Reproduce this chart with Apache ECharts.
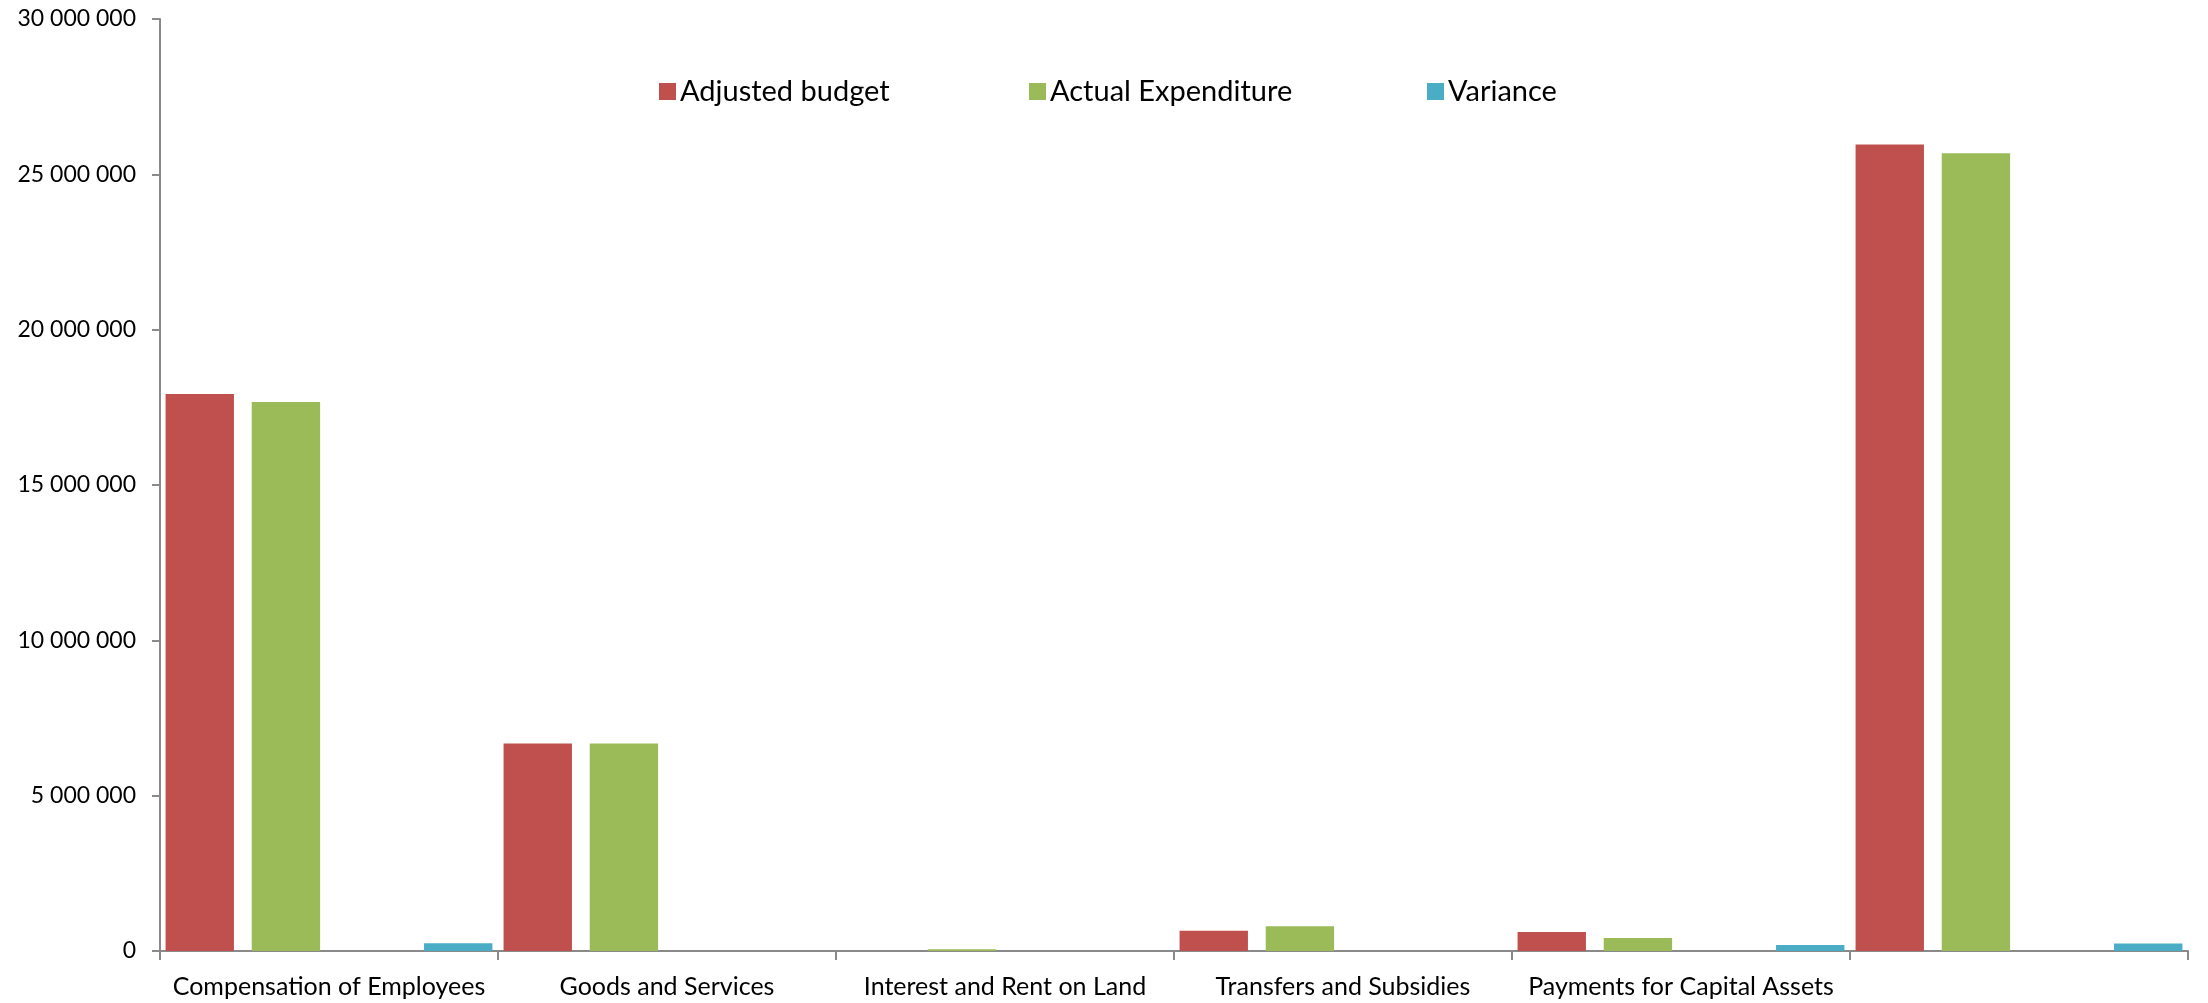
<!DOCTYPE html>
<html>
<head>
<meta charset="utf-8">
<title>Adjusted budget vs Actual Expenditure</title>
<script src="https://cdn.jsdelivr.net/npm/echarts@6/dist/echarts.min.js"></script>
<style>
  html, body { margin: 0; padding: 0; background: #ffffff; }
  #chart { width: 2208px; height: 1003px; }
</style>
</head>
<body>
<div id="chart"></div>
<script>
// Economic classification (last column is the total, left unlabelled)
const categories = [
  'Compensation of Employees',
  'Goods and Services',
  'Interest and Rent on Land',
  'Transfers and Subsidies',
  'Payments for Capital Assets',
  ''
];
const adjustedBudget    = [17930000, 6680000, 0,      655000,  612000, 25960000];
const actualExpenditure = [17670000, 6680000, 55000,  794000,  419000, 25680000];
const emptySlot         = [null, null, null, null, null, null];
const variance          = [250000,   0,       -80000, -90000,  193000, 245000];
const yTicks = { min: 0, max: 30000000, step: 5000000 };

const FONT = 'Lato, "Open Sans", sans-serif';
const AXIS_GREY = '#8a8a8a';
const COLORS = { budget: '#C0504D', actual: '#9BBB59', variance: '#4BACC6' };

function spaced(v) {
  return String(v).replace(/\B(?=(\d{3})+(?!\d))/g, ' ');
}

function legendAt(name, left) {
  return {
    data: [name],
    left: left,
    top: 72,
    itemWidth: 17,
    itemHeight: 17,
    itemGap: 8,
    icon: 'rect',
    selectedMode: false,
    textStyle: { fontFamily: FONT, fontSize: 29, color: '#000', padding: [0, 0, 0, -1] }
  };
}

const chart = echarts.init(document.getElementById('chart'), null, { renderer: 'canvas' });

chart.setOption({
  animation: false,
  backgroundColor: '#ffffff',
  legend: [
    legendAt('Adjusted budget', 654),
    legendAt('Actual Expenditure', 1024),
    legendAt('Variance', 1422)
  ],
  grid: { left: 160, right: 20, top: 19, bottom: 52, containLabel: false },
  xAxis: {
    type: 'category',
    data: categories,
    z: 0,
    axisLine: { show: true, onZero: false, lineStyle: { color: AXIS_GREY, width: 2 } },
    axisTick: { show: true, length: 9, alignWithLabel: false, lineStyle: { color: AXIS_GREY, width: 2 } },
    axisLabel: { interval: 0, margin: 23, fontFamily: FONT, fontSize: 25, color: '#000' },
    splitLine: { show: false }
  },
  yAxis: {
    type: 'value',
    min: yTicks.min,
    max: yTicks.max,
    interval: yTicks.step,
    axisLine: { show: true, lineStyle: { color: AXIS_GREY, width: 2 } },
    axisTick: { show: true, length: 8, lineStyle: { color: AXIS_GREY, width: 2 } },
    axisLabel: { margin: 24, fontFamily: FONT, fontSize: 23, color: '#000', formatter: spaced },
    splitLine: { show: false }
  },
  series: [
    {
      name: 'Adjusted budget', type: 'bar', data: adjustedBudget,
      barCategoryGap: '3.3%', barGap: '26%',
      itemStyle: { color: COLORS.budget }
    },
    {
      name: 'Actual Expenditure', type: 'bar', data: actualExpenditure,
      barCategoryGap: '3.3%', barGap: '26%',
      itemStyle: { color: COLORS.actual }
    },
    {
      name: 'slot', type: 'bar', data: emptySlot, silent: true,
      barCategoryGap: '3.3%', barGap: '26%',
      itemStyle: { color: 'rgba(0,0,0,0)' }
    },
    {
      name: 'Variance', type: 'bar', data: variance, z: 3,
      barCategoryGap: '3.3%', barGap: '26%',
      itemStyle: { color: COLORS.variance }
    }
  ]
});
</script>
</body>
</html>
